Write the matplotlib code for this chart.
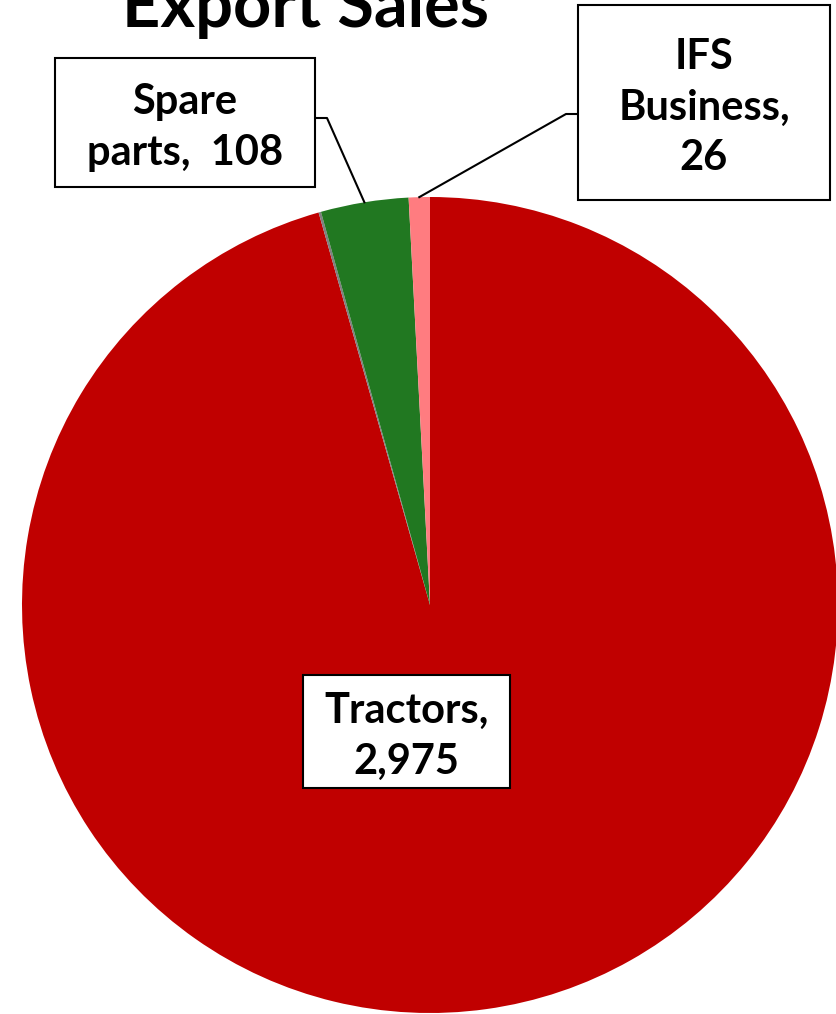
import numpy as np
import matplotlib
matplotlib.use("Agg")
import matplotlib.pyplot as plt
from matplotlib.patches import Rectangle

# Data
categories = ["Tractors", "Others", "Spare parts", "IFS Business"]
values = [2975, 3, 108, 26]
colors = ["#C00000", "#7F7F7F", "#217821", "#FF7C80"]
label_texts = {"Tractors": "Tractors,\n2,975",
               "Spare parts": "Spare\nparts,  108",
               "IFS Business": "IFS\nBusiness,\n26"}
title = "Export Sales"

W, H = 837, 1014
fig = plt.figure(figsize=(W / 100, H / 100), dpi=100)
cx, cy, R = 430, 605, 408
ax = fig.add_axes([(cx - R) / W, (H - cy - R) / H, 2 * R / W, 2 * R / H])
wedges, _ = ax.pie(values, colors=colors, startangle=90, counterclock=False,
                   radius=1, wedgeprops=dict(linewidth=0))
ax.set_xlim(-1, 1)
ax.set_ylim(-1, 1)
ax.set_aspect("equal")
ax.axis("off")


def d(px, py):
    return ((px - cx) / R, (cy - py) / R)


font = "Lato"
fs = 30
ls = 1.4


def label(text, x0, y0, x1, y1):
    a = d(x0, y1)
    b = d(x1, y0)
    ax.add_patch(Rectangle(a, b[0] - a[0], b[1] - a[1], fc="white", ec="black",
                           lw=1.5, zorder=5, clip_on=False))
    c = d((x0 + x1) / 2, (y0 + y1) / 2 + 5)
    ax.text(c[0], c[1], text, ha="center", va="center", fontsize=fs,
            fontweight="bold", family=font, linespacing=ls, zorder=6,
            clip_on=False)


label(label_texts["Tractors"], 303, 675, 510, 788)
label(label_texts["Spare parts"], 55, 58, 315, 187)
label(label_texts["IFS Business"], 578, 5, 830, 200)

# Leader lines
w = wedges[2]
ang = np.deg2rad((w.theta1 + w.theta2) / 2)
p0 = d(315, 118)
p1 = d(327, 118)
ax.plot([p0[0], p1[0], np.cos(ang)], [p0[1], p1[1], np.sin(ang)], color="black",
        lw=1.5, clip_on=False, zorder=4)

w = wedges[3]
ang = np.deg2rad((w.theta1 + w.theta2) / 2)
q0 = d(578, 114)
q1 = d(566, 114)
ax.plot([q0[0], q1[0], np.cos(ang)], [q0[1], q1[1], np.sin(ang)], color="black",
        lw=1.5, clip_on=False, zorder=4)

fig.text(305 / W, (H - 27) / H, title, ha="center", va="baseline", fontsize=48,
         fontweight="bold", family=font)

fig.savefig("out.png", dpi=100)
